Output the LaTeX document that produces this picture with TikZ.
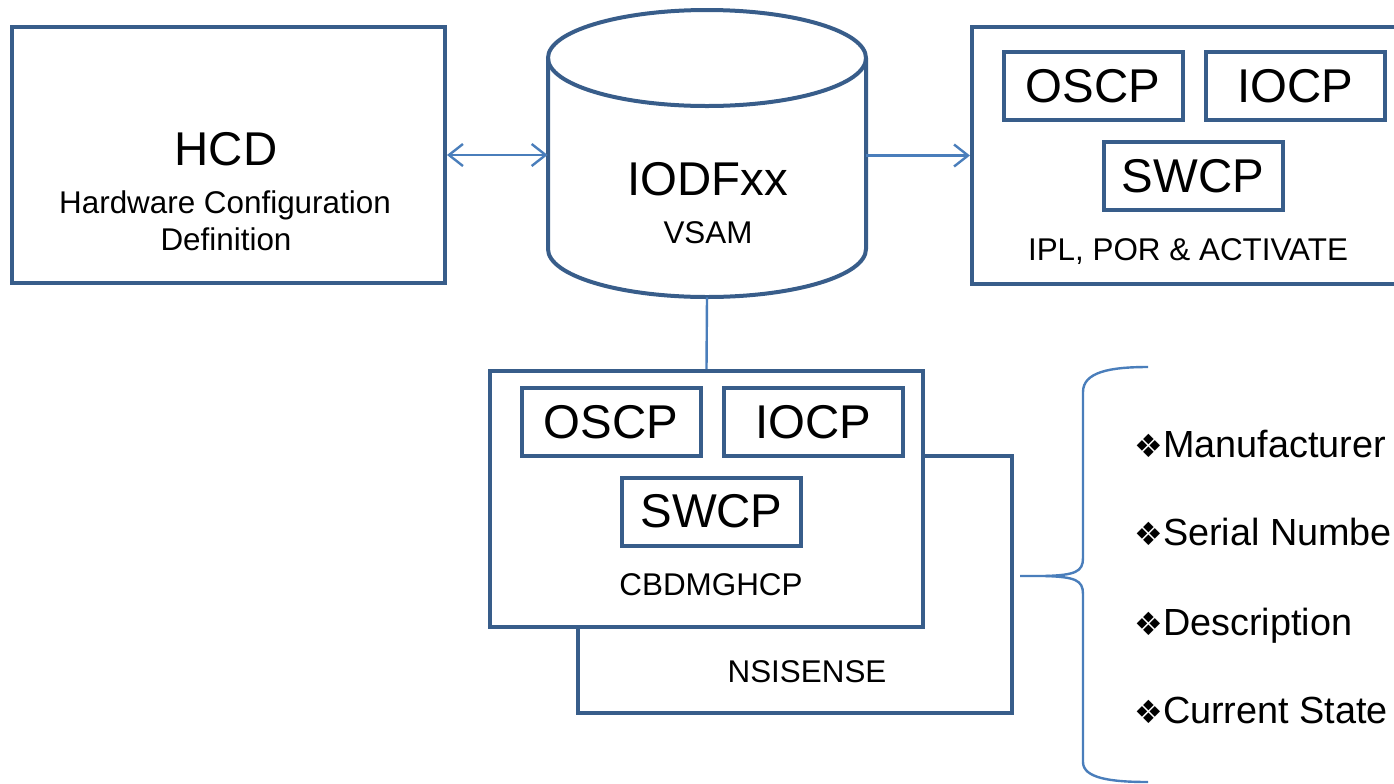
\documentclass[tikz,border=0pt]{standalone}
\usepackage{fontspec}
\setmainfont{Liberation Sans}
\newfontfamily\dingfont{DejaVu Sans}
\usetikzlibrary{positioning,arrows.meta}
\definecolor{boxblue}{HTML}{385D8A}
\definecolor{linkblue}{HTML}{4A7EBB}
\newcommand{\hugetxt}{\fontsize{23.7}{28}\selectfont}
\newcommand{\smalltxt}{\fontsize{15.7}{18.5}\selectfont}
\newcommand{\listtxt}{\fontsize{18.9}{22}\selectfont}
\newcommand{\itemmark}{{\dingfont\fontsize{16}{16}\selectfont ❖}}
\tikzset{
>={Straight Barb[length=7pt,width=11pt]},
boxline/.style={draw=boxblue, line width=2pt},
box/.style={boxline, rectangle, fill=white, inner sep=0pt},
cpbox/.style={box, minimum width=89.5pt, minimum height=34pt, font=\hugetxt},
link/.style={draw=linkblue, line width=1.2pt},
}

\begin{document}
\begin{tikzpicture}
    [x=0.5pt, y=-0.5pt,
    node distance=9.5pt,
    txt/.style={inner sep=0pt, anchor=base, font=\smalltxt},
    item/.style={inner sep=0pt, anchor=base west, font=\listtxt}
    ]
    \useasboundingbox (0,0) rectangle (1394,783);

    % HCD
    \node [box, minimum width=216.5pt, minimum height=128pt] (hcd) at (228.5,155) {};
    \node [txt, font=\hugetxt] (hcdT) at (226,165) {HCD};
    \node [txt] (hw) at (225,213) {Hardware Configuration};
    \node [txt] (def) at (226,250) {Definition};

    % IODF data set
    \node [minimum width=159pt, minimum height=143.5pt, inner sep=0pt] (db) at (707,153.5) {};
    \draw [boxline] (548,58) -- (548,249)
        arc [start angle=180, end angle=360, x radius=79.5pt, y radius=24pt] -- (866,58);
    \draw [boxline] (707,58) ellipse [x radius=79.5pt, y radius=24pt];
    \node [txt, font=\hugetxt] (iodf) at (708,195) {IODFxx};
    \node [txt] (vsam) at (708,243) {VSAM};

    % IPL, POR & ACTIVATE
    \node [box, minimum width=220pt, minimum height=128.5pt] (ipl) at (1192,155.5) {};
    \node [cpbox] (oscpA) at (1093,86) {OSCP};
    \node [cpbox, right=of oscpA] (iocpA) {IOCP};
    \node [cpbox] (swcpA) at (1193,176) {SWCP};
    \node [txt] (iplT) at (1188,260) {IPL, POR \& ACTIVATE};

    % NSISENSE behind CBDMGHCP
    \node [box, minimum width=217pt, minimum height=128.5pt] (nsi) at (795,584.5) {};
    \node [txt] (nsiT) at (807,682) {NSISENSE};

    \node [box, minimum width=216.5pt, minimum height=128pt] (cbd) at (706.5,499) {};
    \node [cpbox] (oscpB) at (611,422) {OSCP};
    \node [cpbox, right=of oscpB] (iocpB) {IOCP};
    \node [cpbox] (swcpB) at (711.5,511.5) {SWCP};
    \node [txt] (cbdT) at (711,595) {CBDMGHCP};

    % connectors
    \draw [link, <->] (hcd.east) -- (hcd.east -| db.west);
    \draw [link, ->] (db.east |- ipl.west) -- (ipl.west);
    \draw [link] (db.south) -- (cbd.north);

    % brace
    \coordinate (brc) at (1020,576);
    \draw [link] (brc) -- (1045,576)
        .. controls (1075,575) and (1083,572) .. (1083,558) -- (1083,392)
        .. controls (1083,372) and (1110,367) .. (1148,367);
    \draw [link] (1045,576)
        .. controls (1075,577) and (1083,580) .. (1083,594) -- (1083,762)
        .. controls (1083,778) and (1110,782) .. (1148,782);

    % fields
    \node [item] (manu) at (1134,457) {\itemmark Manufacturer};
    \node [item] (serial) at (1134,545) {\itemmark Serial Number};
    \node [item] (descr) at (1134,635) {\itemmark Description};
    \node [item] (state) at (1134,723) {\itemmark Current State};

\end{tikzpicture}
\end{document}
